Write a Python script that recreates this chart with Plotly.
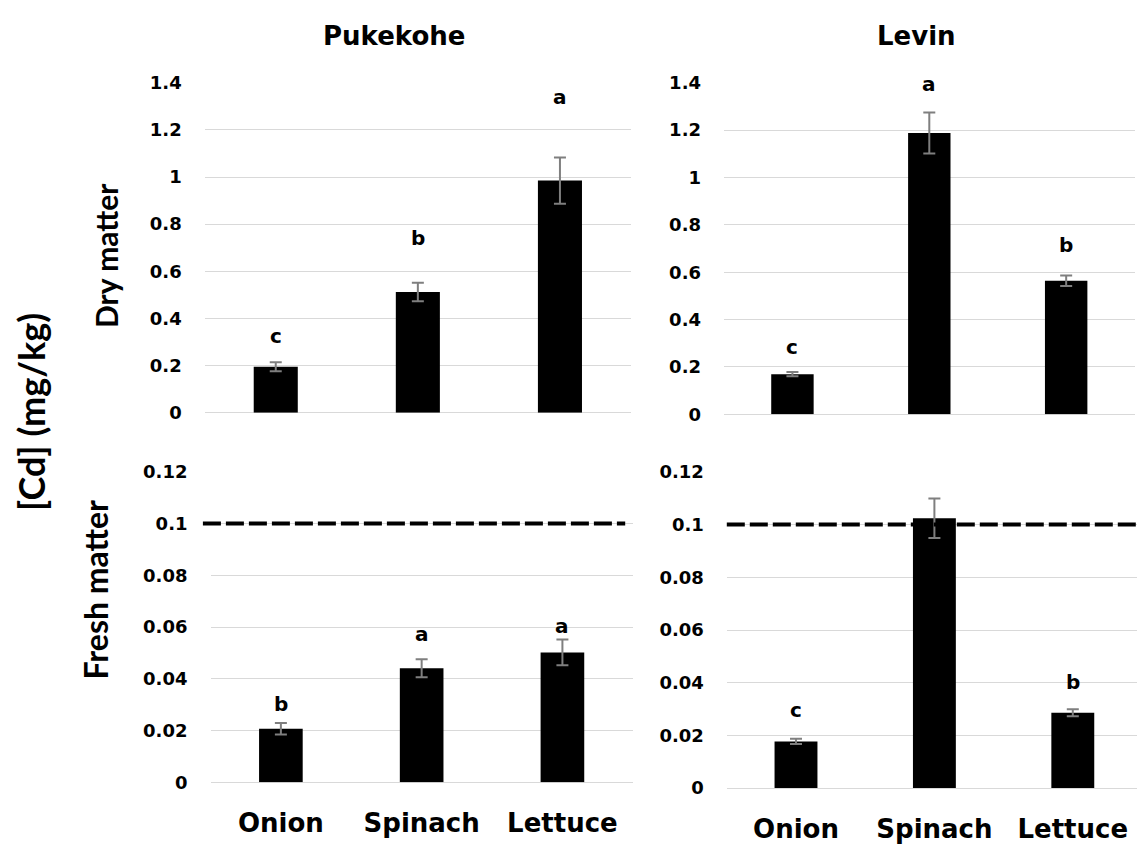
import plotly.graph_objects as go

# ---------------- data ----------------
crops = ["Onion", "Spinach", "Lettuce"]
sites = ["Pukekohe", "Levin"]

puk_dry = [0.195, 0.512, 0.985]
puk_dry_se = [0.019, 0.039, 0.098]
lev_dry = [0.169, 1.188, 0.564]
lev_dry_se = [0.009, 0.087, 0.022]

puk_fresh = [0.0207, 0.0441, 0.0502]
puk_fresh_se = [0.0022, 0.0035, 0.0050]
lev_fresh = [0.0177, 0.1024, 0.0286]
lev_fresh_se = [0.0010, 0.0075, 0.0013]

puk_dry_letters = ["c", "b", "a"]
lev_dry_letters = ["c", "a", "b"]
puk_fresh_letters = ["b", "a", "a"]
lev_fresh_letters = ["c", "a", "b"]

dry_ticks = [0, 0.2, 0.4, 0.6, 0.8, 1.0, 1.2, 1.4]
dry_ticktext = ["0", "0.2", "0.4", "0.6", "0.8", "1", "1.2", "1.4"]
fresh_ticks = [0, 0.02, 0.04, 0.06, 0.08, 0.10, 0.12]
fresh_ticktext = ["0", "0.02", "0.04", "0.06", "0.08", "0.1", "0.12"]

fresh_limit = 0.1  # maximum permitted level (dashed line)

# label placement (annotation heights)
puk_dry_lab_y = [0.326, 0.74, 1.34]
lev_dry_lab_y = [0.284, 1.393, 0.716]
puk_fresh_lab_y = [0.0304, 0.0574, 0.0606]
lev_fresh_lab_y = [0.0296, 0.1213, 0.0401]

# ---------------- style ----------------
# the page body has a default 8px margin: lay out in page pixels, then offset
OFF = 8
W, H = 1145 - OFF, 854 - OFF
HFONT = "DejaVu Sans"
VFONT = "Lato"
GRID = "#d9d9d9"
ERR = "#7f7f7f"

def px_x(a, b):
    return [(a - OFF) / W, (b - OFF) / W]

def px_y(top, bottom):
    return [1 - (bottom - OFF) / H, 1 - (top - OFF) / H]

def pxx(a):
    return (a - OFF) / W

def pxy(a):
    return 1 - (a - OFF) / H

panels = [
    (puk_dry, puk_dry_se, puk_dry_letters, puk_dry_lab_y, "x", "y",
     px_x(204.7, 631.0), px_y(73.3, 411.7), dry_ticks, dry_ticktext, False),
    (lev_dry, lev_dry_se, lev_dry_letters, lev_dry_lab_y, "x2", "y2",
     px_x(724.0, 1134.6), px_y(73.3, 413.3), dry_ticks, dry_ticktext, False),
    (puk_fresh, puk_fresh_se, puk_fresh_letters, puk_fresh_lab_y, "x3", "y3",
     px_x(210.5, 632.8), px_y(472.3, 790.7), fresh_ticks, fresh_ticktext, True),
    (lev_fresh, lev_fresh_se, lev_fresh_letters, lev_fresh_lab_y, "x4", "y4",
     px_x(726.8, 1142.0), px_y(472.3, 796.7), fresh_ticks, fresh_ticktext, True),
]

fig = go.Figure()
annotations = []
layout_axes = {}

for i, (vals, se, letters, laby, xa, ya, xd, yd, tv, tt, showx) in enumerate(panels):
    fig.add_trace(go.Bar(
        x=crops, y=vals, xaxis=xa, yaxis=ya, width=0.31,
        marker=dict(color="black", line=dict(width=0)),
        error_y=dict(type="data", array=se, visible=True, color=ERR,
                     thickness=2, width=6),
        showlegend=False, hoverinfo="skip",
    ))
    for c, l, yy in zip(crops, letters, laby):
        annotations.append(dict(
            x=c, y=yy, xref=xa, yref=ya, text=l, showarrow=False,
            font=dict(family=HFONT, size=20, color="black", weight="bold"),
            xanchor="center", yanchor="middle",
        ))
    xkey = "xaxis" if xa == "x" else "xaxis" + xa[1:]
    ykey = "yaxis" if ya == "y" else "yaxis" + ya[1:]
    top = tv[-1]
    layout_axes[xkey] = dict(
        domain=xd, anchor=ya, type="category", range=[-0.5, 2.5],
        showgrid=False, showline=False, zeroline=False, ticks="",
        showticklabels=showx, ticklabelstandoff=23,
        tickfont=dict(family=HFONT, size=26, color="black", weight="bold"),
    )
    layout_axes[ykey] = dict(
        domain=yd, anchor=xa, range=[0, top * 1.0004],
        tickvals=tv, ticktext=tt, showgrid=True, gridcolor=GRID, gridwidth=1.3,
        zeroline=True, zerolinecolor=GRID, zerolinewidth=1.3,
        showline=False, ticks="", ticklabelstandoff=22,
        tickfont=dict(family=HFONT, size=18, color="black", weight="bold"),
    )

# dashed maximum-level lines
shapes = [
    dict(type="line", xref="x3 domain", yref="y3", x0=-0.018, x1=0.982,
         y0=fresh_limit, y1=fresh_limit, layer="above",
         line=dict(color="black", width=4, dash="18px,5px")),
    dict(type="line", xref="x4 domain", yref="y4", x0=0, x1=1,
         y0=fresh_limit, y1=fresh_limit, layer="above",
         line=dict(color="black", width=4, dash="18px,5px")),
]

def title(text, x, y, size, family, angle=0):
    return dict(x=pxx(x), y=pxy(y), xref="paper", yref="paper", text=text,
                textangle=angle, showarrow=False, xanchor="center", yanchor="middle",
                font=dict(family=family, size=size, color="black", weight="bold"))

annotations.append(title(sites[0], 394, 25, 26, HFONT))
annotations.append(title(sites[1], 916, 25, 26, HFONT))
annotations.append(title("Dry matter", 106, 251, 30, VFONT, -90))
annotations.append(title("Fresh matter", 95, 593, 32, VFONT, -90))
annotations.append(title("[Cd] (mg/kg)", 31, 411, 36, VFONT, -90))

fig.update_layout(
    width=W, height=H, margin=dict(l=0, r=0, t=0, b=0),
    paper_bgcolor="white", plot_bgcolor="white",
    annotations=annotations, shapes=shapes,
    **layout_axes,
)

fig.write_html("out.html")
